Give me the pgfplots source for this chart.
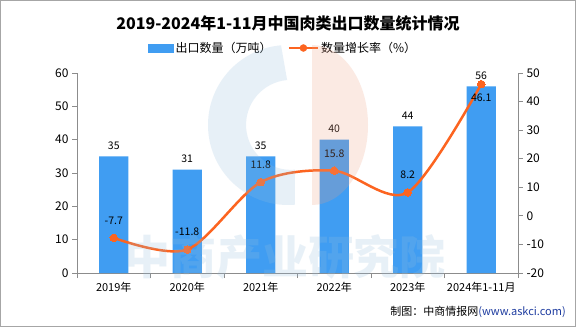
\documentclass[border=0pt]{standalone}
\usepackage{pgfplots}
\pgfplotsset{compat=1.18}
\usepackage{fontspec}
\setmainfont{Noto Sans CJK SC}
\definecolor{barblue}{RGB}{64,157,242}
\definecolor{lineorange}{RGB}{252,100,32}
\definecolor{axgray}{RGB}{140,140,140}
\definecolor{wmblue}{RGB}{150,190,220}
\definecolor{wmorange}{RGB}{240,160,130}
\definecolor{urlblue}{RGB}{30,60,160}
\begin{document}
\begin{tikzpicture}[x=1pt,y=1pt]
\fill[white] (0,0) rectangle (576,327);
\draw[gray!70, line width=1pt] (0.5,0.5) rectangle (575.5,326.5);
\node[font=\bfseries\fontsize{16}{19}\selectfont] at (288,304) {2019-2024年1-11月中国肉类出口数量统计情况};
\node[anchor=east, font=\fontsize{11}{13}\selectfont, inner sep=0pt] at (566,15) {制图：中商情报网\textcolor{urlblue}{(www.askci.com)}};

\begin{axis}[at={(77pt,54pt)}, anchor=south west, scale only axis,
  width=441pt, height=200pt,
  xmin=-0.5, xmax=5.5, ymin=0, ymax=60,
  ytick={0,10,...,60},
  axis x line*=bottom, axis y line*=left,
  axis line style={-, axgray, line width=0.8pt},
  xtick={0,...,5},
  xticklabels={2019年,2020年,2021年,2022年,2023年,2024年1-11月},
  major x tick style={draw=none},
  minor xtick={-0.5,0.5,...,5.5},
  minor x tick style={axgray, line width=0.8pt},
  y tick style={axgray, line width=0.8pt},
  tick align=outside, major tick length=5pt, minor tick length=5pt,
  /pgf/number format/assume math mode=true,
  yticklabel style={font=\fontsize{12}{14}\selectfont},
  xticklabel style={font=\fontsize{11}{13}\selectfont, yshift=-1pt},
  ybar, bar width=0.4,
  nodes near coords,
  every node near coord/.append style={font=\fontsize{10.5}{12}\selectfont, black, yshift=3pt},
  legend columns=2,
  legend style={draw=none, fill=none, at={(0.467,1.125)}, anchor=center,
    font=\fontsize{12}{14}\selectfont, /tikz/every even column/.append style={column sep=14pt}},
  legend image code/.code={\fill[barblue] (0pt,-4.5pt) rectangle (26pt,4.5pt);},
  clip=false,
]
\addplot[fill=barblue, draw=none] coordinates {(0,35)(1,31)(2,35)(3,40)(4,44)(5,56)};
\addlegendentry{出口数量（万吨）}
\addlegendimage{legend image code/.code={\draw[lineorange, line width=2.5pt] (0pt,0pt) -- (29pt,0pt); \fill[lineorange] (14.5pt,0pt) circle (3.5pt);}}
\addlegendentry{数量增长率（\%）}
\end{axis}

\begin{axis}[at={(77pt,54pt)}, anchor=south west, scale only axis,
  width=441pt, height=200pt,
  xmin=-0.5, xmax=5.5, ymin=-20, ymax=50,
  ytick={-20,-10,...,50},
  axis y line*=right, axis x line=none,
  axis line style={-, axgray, line width=0.8pt},
  y tick style={axgray, line width=0.8pt},
  tick align=outside, major tick length=5pt,
  /pgf/number format/assume math mode=true,
  yticklabel style={font=\fontsize{12}{14}\selectfont},
  clip=false,
]
\addplot[lineorange, line width=2.5pt, smooth, tension=0.5, mark=*, mark size=3.8pt, mark options={fill=lineorange, draw=lineorange, line width=0pt}]
  coordinates {(0,-7.7)(1,-11.8)(2,11.8)(3,15.8)(4,8.2)(5,46.1)};
\addplot[draw=none, mark=none, nodes near coords, point meta=explicit symbolic,
  every node near coord/.append style={font=\fontsize{10.5}{12}\selectfont, black, anchor=south, yshift=10pt}]
  coordinates {(0,-7.7)[-7.7] (1,-11.8)[-11.8] (2,11.8)[11.8] (3,15.8)[15.8] (4,8.2)[8.2]};
\addplot[draw=none, mark=none, nodes near coords, point meta=explicit symbolic,
  every node near coord/.append style={font=\fontsize{10.5}{12}\selectfont, black, anchor=north, yshift=-6pt}]
  coordinates {(5,46.1)[46.1]};
\end{axis}

% watermark
\begin{scope}[opacity=0.22]
\fill[wmblue, even odd rule] (288,202) ++(95:80) arc (95:275:80) -- ++(0,35) arc (275:95:45) -- cycle;
\fill[wmorange] (312,282) arc (90:-90:56 and 80) -- cycle;
\node[font=\bfseries\fontsize{46}{50}\selectfont, text=wmblue] at (285,70) {中商产业研究院};
\end{scope}
\end{tikzpicture}
\end{document}
